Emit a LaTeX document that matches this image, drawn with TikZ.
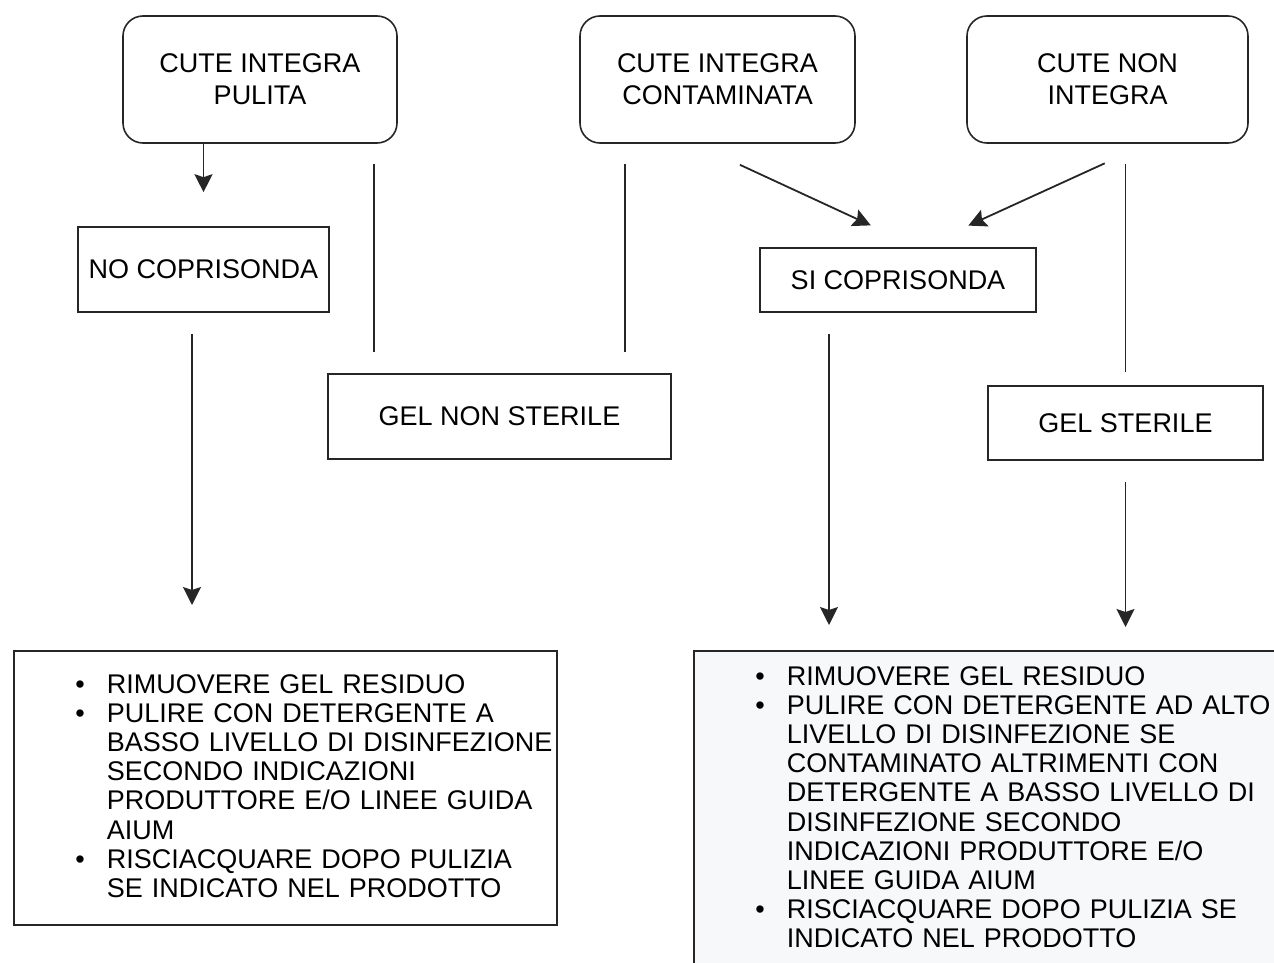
\documentclass[tikz,border=0pt]{standalone}
\usepackage{fontspec}
\setmainfont{Liberation Sans}
\usepackage{enumitem}
\usetikzlibrary{arrows.meta}
\definecolor{fondolista}{HTML}{F7F8FA}
\newlist{punti}{itemize}{1}
\setlist[punti]{label=\textbullet, nosep, labelsep=11pt, leftmargin=46.5pt}

\begin{document}
\begin{tikzpicture}[x=0.5pt,y=-0.5pt]
  \tikzstyle{stato}=[draw=black!85, line width=0.8pt, rounded corners=10pt, align=center, inner sep=0pt, minimum height=63.5pt, font=\fontsize{13.5}{16}\selectfont]
  \tikzstyle{scelta}=[draw=black!85, line width=0.8pt, align=center, inner sep=0pt, font=\fontsize{13.5}{16}\selectfont]
  \tikzstyle{lista}=[draw=black!85, line width=0.8pt, anchor=north west, inner xsep=0pt, font=\fontsize{13.5}{14.6}\selectfont]
  \tikzstyle{linea}=[draw=black!85, line width=0.9pt]
  \tikzstyle{freccia}=[linea, -{Stealth[length=9pt,width=9pt,inset=1.5pt]}]
  \useasboundingbox (0,0) rectangle (1274,963);
  % tipo di cute
  \node [stato, minimum width=137pt] (cip) at (260,79.5) {CUTE INTEGRA\\PULITA};
  \node [stato, minimum width=137.5pt] (cic) at (717.5,79.5) {CUTE INTEGRA\\CONTAMINATA};
  \node [stato, minimum width=140.5pt] (cni) at (1107.5,79.5) {CUTE NON\\INTEGRA};
  % coprisonda e gel
  \node [scelta, minimum width=125.5pt, minimum height=42.5pt] (noc) at (203.5,269.5) {NO COPRISONDA};
  \node [scelta, minimum width=138pt, minimum height=32pt] (sic) at (898,280) {SI COPRISONDA};
  \node [scelta, minimum width=171.5pt, minimum height=42.5pt] (gns) at (499.5,416.5) {GEL NON STERILE};
  \node [scelta, minimum width=137.5pt, minimum height=37pt] (gs) at (1125.5,423) {GEL STERILE};
  % pulizia
  \node [lista, text width=271.5pt, inner ysep=6.5pt, text depth=124pt] (pl) at (13,650) {%
    \begin{punti}
      \item RIMUOVERE GEL RESIDUO
      \item PULIRE CON DETERGENTE A\\BASSO LIVELLO DI DISINFEZIONE\\SECONDO INDICAZIONI\\PRODUTTORE E/O LINEE GUIDA\\AIUM
      \item RISCIACQUARE DOPO PULIZIA\\SE INDICATO NEL PRODOTTO
    \end{punti}};
  \node [lista, fill=fondolista, text width=303.5pt, inner ysep=2.5pt, text depth=162pt] (pd) at (693,650) {%
    \begin{punti}
      \item RIMUOVERE GEL RESIDUO
      \item PULIRE CON DETERGENTE AD ALTO\\LIVELLO DI DISINFEZIONE SE\\CONTAMINATO ALTRIMENTI CON\\DETERGENTE A BASSO LIVELLO DI\\DISINFEZIONE SECONDO\\INDICAZIONI PRODUTTORE E/O\\LINEE GUIDA AIUM
      \item RISCIACQUARE DOPO PULIZIA SE\\INDICATO NEL PRODOTTO
    \end{punti}};
  % colonne dei collegamenti
  \coordinate (xa) at (374,0);
  \coordinate (xb) at (625,0);
  \coordinate (xc) at (192,0);
  \coordinate (xd) at (829,0);
  \draw[freccia, shorten >=17pt] (noc.north |- cip.south) -- (noc.north);
  \draw[linea, shorten <=10pt, shorten >=10.5pt] (cip.south -| xa) -- (gns.north -| xa);
  \draw[linea, shorten <=10pt, shorten >=10.5pt] (cic.south -| xb) -- (gns.north -| xb);
  \draw[freccia, shorten <=25pt, shorten >=26pt] ([xshift=-11.5pt]cic.south) -- ([xshift=10pt]sic.north);
  \draw[freccia, shorten <=23.5pt, shorten >=26pt] ([xshift=20pt]cni.south) -- ([xshift=11.5pt]sic.north);
  \draw[linea, shorten <=10pt, shorten >=6.5pt] (gs.north |- cni.south) -- (gs.north);
  \draw[freccia, shorten <=10.5pt, shorten >=22.5pt] (noc.south -| xc) -- (pl.north -| xc);
  \draw[freccia, shorten <=10.5pt, shorten >=12.5pt] (sic.south -| xd) -- (pd.north -| xd);
  \draw[freccia, shorten <=10.5pt, shorten >=11.5pt] (gs.south) -- (gs.south |- pd.north);
\end{tikzpicture}
\end{document}
